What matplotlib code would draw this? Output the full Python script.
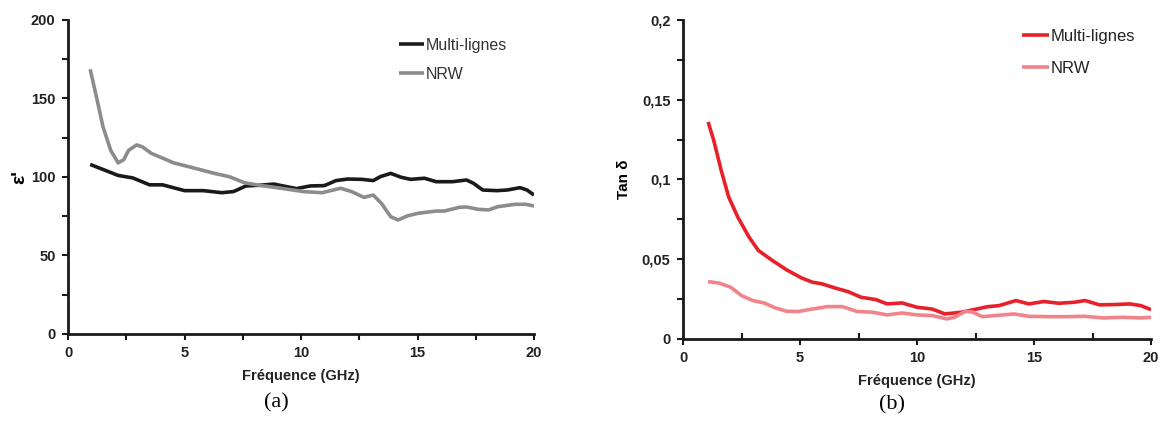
import matplotlib
matplotlib.use("Agg")
import matplotlib.pyplot as plt
from matplotlib.ticker import MultipleLocator, FixedLocator

# (a) permittivite reelle
x_ml_a = [0.95, 2.15, 2.78, 3.5, 4.06, 5.0, 5.8, 6.6, 7.1, 7.64, 8.2, 8.83, 9.8, 10.4, 11.0,
          11.5, 12.0, 12.6, 13.1, 13.4, 13.85, 14.3, 14.7, 15.3, 15.8, 16.5, 17.1, 17.4,
          17.8, 18.4, 18.85, 19.4, 19.7, 20.0]
y_ml_a = [108, 101, 99.4, 95, 95, 91.3, 91.3, 90, 90.7, 94.3, 94.7, 95.5, 92.6, 94.3, 94.5,
          97.7, 98.7, 98.5, 97.7, 100.2, 102.3, 99.8, 98.5, 99.2, 97, 97, 98.1, 96,
          91.7, 91.3, 91.7, 93.2, 91.7, 88.5]

x_nrw_a = [0.95, 1.19, 1.5, 1.83, 2.15, 2.39, 2.6, 2.94, 3.18, 3.58, 4.06, 4.53, 5.33, 6.28,
           6.92, 7.56, 8.2, 9.15, 10.1, 10.9, 11.7, 12.17, 12.7, 13.1, 13.45, 13.85, 14.16,
           14.56, 15.03, 15.8, 16.15, 16.8, 17.1, 17.6, 18.05, 18.45, 19.2, 19.65, 20.0]
y_nrw_a = [168.6, 153, 132, 117, 109, 111, 117, 120.4, 119.3, 115, 112, 109, 106, 102.3,
           100.2, 96.4, 94.7, 92.8, 90.7, 90, 92.8, 90.7, 87, 88.5, 83.2, 74.7, 72.6,
           75.2, 76.9, 78.3, 78.3, 80.7, 80.9, 79.4, 79, 81.1, 82.6, 82.6, 81.5]

# (b) tangente de pertes
x_ml_b = [1.07, 1.31, 1.63, 1.95, 2.34, 2.82, 3.22, 3.78, 4.42, 5.06, 5.53, 5.93, 6.49, 7.05,
          7.6, 8.24, 8.72, 9.36, 10.0, 10.64, 11.2, 11.9, 12.55, 13.03, 13.5, 14.23, 14.78,
          15.42, 16.06, 16.7, 17.18, 17.8, 18.45, 19.1, 19.57, 20.0]
y_ml_b = [0.1361, 0.1246, 0.1058, 0.089, 0.0764, 0.0639, 0.0555, 0.0496, 0.0434, 0.0383,
          0.0356, 0.0346, 0.032, 0.0297, 0.0262, 0.0247, 0.022, 0.0226, 0.0199, 0.0188,
          0.0157, 0.0168, 0.0188, 0.0203, 0.0209, 0.0241, 0.022, 0.0235, 0.0224, 0.023,
          0.0241, 0.0214, 0.0216, 0.022, 0.0209, 0.0184]

x_nrw_b = [1.07, 1.55, 2.03, 2.5, 2.98, 3.46, 3.94, 4.42, 4.9, 5.53, 6.17, 6.81, 7.45, 8.09,
           8.72, 9.36, 10.0, 10.64, 11.28, 11.6, 12.07, 12.39, 12.79, 13.35, 14.15, 14.78,
           15.58, 16.38, 17.18, 17.97, 18.77, 19.57, 20.0]
y_nrw_b = [0.036, 0.035, 0.0325, 0.0272, 0.0241, 0.0226, 0.0195, 0.0174, 0.0172, 0.0188,
           0.0203, 0.0203, 0.0172, 0.0168, 0.0151, 0.0163, 0.0151, 0.0147, 0.0126, 0.0136,
           0.0174, 0.0168, 0.014, 0.0147, 0.0157, 0.0142, 0.014, 0.014, 0.0142, 0.0132,
           0.0136, 0.0132, 0.0136]

yticks_b = [0, 0.05, 0.1, 0.15, 0.2]
yticklabels_b = ["0", "0,05", "0,1", "0,15", "0,2"]

plt.rcParams['font.family'] = ['Liberation Sans', 'DejaVu Sans']
plt.rcParams['lines.solid_joinstyle'] = 'round'
plt.rcParams['lines.solid_capstyle'] = 'butt'

fig = plt.figure(figsize=(11.67, 4.21), dpi=100)
ax1 = fig.add_axes([0.0583, 0.2067, 0.3993, 0.7458])
ax2 = fig.add_axes([0.5853, 0.1948, 0.4010, 0.7577])


def style(ax):
    for s in ['top', 'right']:
        ax.spines[s].set_visible(False)
    for s in ['left', 'bottom']:
        ax.spines[s].set_linewidth(2)
        ax.spines[s].set_color('#1a1a1a')
    ax.set_xlim(0, 20)
    ax.xaxis.set_major_locator(MultipleLocator(5))
    ax.xaxis.set_minor_locator(MultipleLocator(2.5))
    ax.tick_params(which='major', direction='out', length=4, width=1.5, color='#1a1a1a',
                   labelsize=10.5, pad=5)
    ax.tick_params(which='minor', direction='out', length=4, width=1.5, color='#1a1a1a')
    for lab in ax.get_xticklabels() + ax.get_yticklabels():
        lab.set_fontweight('bold')
        lab.set_color('#222222')
    ax.set_xlabel('Fréquence (GHz)', fontsize=10.5, fontweight='bold', color='#222222',
                  labelpad=6)


# (a)
ax1.plot(x_ml_a, y_ml_a, color='#1a1a1a', lw=2.6, label='Multi-lignes')
ax1.plot(x_nrw_a, y_nrw_a, color='#8c8c8c', lw=2.6, label='NRW')
ax1.set_ylim(0, 200)
ax1.yaxis.set_major_locator(MultipleLocator(50))
ax1.yaxis.set_minor_locator(MultipleLocator(25))
style(ax1)
ax1.set_ylabel("ε'", fontsize=14, fontweight='bold', labelpad=2)
leg1 = ax1.legend(loc='upper left', bbox_to_anchor=(0.679, 0.99), frameon=False,
                  handlelength=1.6, handletextpad=0.1, labelspacing=0.9, fontsize=11.5)
for t in leg1.get_texts():
    t.set_color('#333333')

# (b)
ax2.plot(x_ml_b, y_ml_b, color='#e8202a', lw=2.6, label='Multi-lignes')
ax2.plot(x_nrw_b, y_nrw_b, color='#f0848a', lw=2.6, label='NRW')
ax2.set_ylim(0, 0.2)
ax2.yaxis.set_major_locator(FixedLocator(yticks_b))
ax2.set_yticklabels(yticklabels_b)
ax2.yaxis.set_minor_locator(MultipleLocator(0.025))
style(ax2)
ax2.tick_params(axis='x', which='minor', direction='in')
ax2.set_ylabel('Tan δ', fontsize=11, fontweight='bold', labelpad=8)
leg2 = ax2.legend(loc='upper left', bbox_to_anchor=(0.693, 1.02), frameon=False,
                  handlelength=1.6, handletextpad=0.1, labelspacing=1.05, fontsize=12)
for t in leg2.get_texts():
    t.set_color('#222222')

fig.text(276 / 1167, 1 - 403 / 421, '(a)', family='Liberation Serif', fontsize=16,
         ha='center', va='center')
fig.text(892 / 1167, 1 - 405 / 421, '(b)', family='Liberation Serif', fontsize=16,
         ha='center', va='center')

fig.savefig('out.png', dpi=100)
